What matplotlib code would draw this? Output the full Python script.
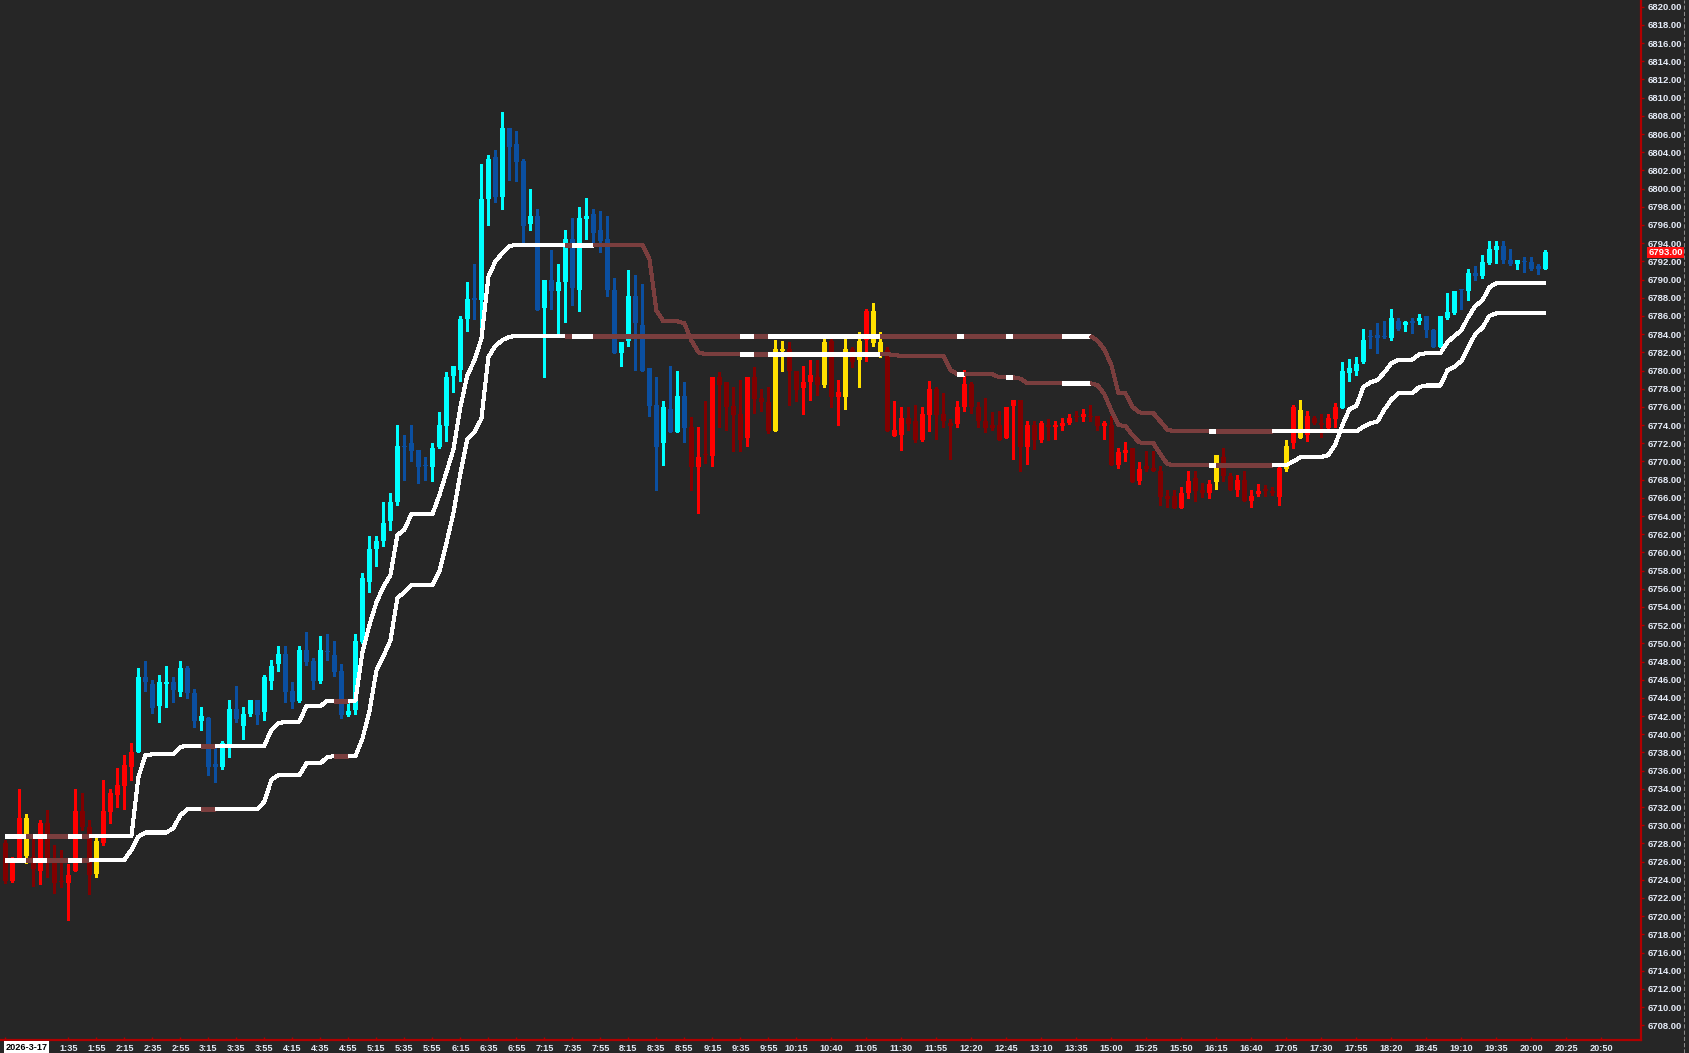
import matplotlib
matplotlib.use("Agg")
import matplotlib.pyplot as plt
from matplotlib.lines import Line2D
from matplotlib.ticker import FixedLocator
import numpy as np

plt.rcParams['font.family'] = ['Liberation Sans', 'DejaVu Sans']

# ---------------- data ----------------
opens = [
    6728.0, 6723.9, 6726.0, 6726.6, 6726.5, 6725.0, 6730.2, 6726.1, 6723.9, 6723.7,
    6725.0, 6731.6, 6729.8, 6724.6, 6728.0, 6731.5, 6733.3, 6734.3, 6736.4, 6738.0,
    6746.3, 6745.5, 6743.1, 6745.5, 6745.8, 6744.7, 6747.3, 6744.5, 6741.5, 6741.8,
    6736.7, 6736.4, 6738.8, 6742.8, 6740.9, 6742.2, 6743.8, 6742.5, 6745.9, 6747.7,
    6748.8, 6744.8, 6743.7, 6749.3, 6748.1, 6745.9, 6749.05, 6748.7, 6747.0, 6742.1,
    6742.7, 6750.1, 6756.8, 6760.4, 6761.2, 6763.4, 6765.5, 6771.65, 6772.0, 6771.3,
    6769.55, 6769.4, 6771.6, 6773.9, 6779.4, 6780.1, 6785.7, 6787.85, 6787.7, 6798.9,
    6803.5, 6799.1, 6806.7, 6804.9, 6803.0, 6796.1, 6797.0, 6786.9, 6790.0, 6788.7,
    6789.7, 6794.5, 6788.9, 6796.7, 6797.2, 6795.4, 6794.5, 6788.8, 6781.9, 6783.2,
    6788.2, 6785.0, 6780.3, 6776.2, 6772.0, 6775.8, 6773.2, 6777.2, 6773.8, 6769.4,
    6770.75, 6770.6, 6779.25, 6778.7, 6776.1, 6775.2, 6772.6, 6779.25, 6777.0, 6776.5,
    6773.3, 6782.2, 6782.4, 6780.0, 6778.1, 6778.7, 6779.25, 6778.4, 6783.3, 6777.05,
    6777.1, 6782.4, 6781.15, 6783.35, 6786.5, 6783.1, 6782.25, 6772.8, 6772.9, 6774.8,
    6774.45, 6772.4, 6775.1, 6778.0, 6775.2, 6774.2, 6774.1, 6775.95, 6778.5, 6775.95,
    6774.45, 6774.0, 6774.0, 6772.6, 6776.1, 6776.75, 6771.6, 6774.0, 6772.4, 6774.0,
    6773.75, 6773.9, 6774.2, 6775.0, 6774.9, 6775.0, 6775.0, 6773.9, 6774.0, 6769.6,
    6770.9, 6771.45, 6767.9, 6769.5, 6769.3, 6768.95, 6766.2, 6766.2, 6764.9, 6766.5,
    6768.2, 6766.9, 6766.5, 6767.7, 6770.45, 6768.4, 6766.9, 6767.95, 6765.7, 6766.4,
    6766.95, 6766.75, 6766.1, 6769.2, 6772.0, 6775.7, 6772.9, 6774.8, 6774.2, 6773.7,
    6774.65, 6775.9, 6779.7, 6779.9, 6780.9, 6783.7, 6783.95, 6783.7, 6783.6, 6785.45,
    6784.95, 6785.45, 6785.4, 6786.0, 6784.45, 6782.6, 6785.75, 6786.3, 6788.9, 6788.7,
    6790.7, 6790.4, 6791.85, 6793.2, 6793.7, 6792.2, 6791.7, 6791.95, 6791.9, 6791.5,
    6791.2,
]
highs = [
    6728.4, 6726.5, 6734.0, 6731.2, 6728.75, 6730.6, 6731.7, 6727.8, 6727.3, 6725.7,
    6734.0, 6733.5, 6730.6, 6728.6, 6735.0, 6734.0, 6736.3, 6737.7, 6739.0, 6747.3,
    6748.1, 6746.0, 6746.5, 6747.5, 6746.3, 6748.1, 6747.5, 6745.0, 6743.0, 6741.9,
    6738.5, 6739.3, 6743.8, 6745.3, 6743.0, 6743.8, 6743.8, 6746.5, 6748.2, 6749.7,
    6749.7, 6745.8, 6749.7, 6751.2, 6748.4, 6750.8, 6751.0, 6750.3, 6747.7, 6743.8,
    6751.0, 6757.7, 6761.8, 6761.8, 6765.5, 6766.5, 6774.0, 6772.9, 6774.0, 6771.3,
    6770.5, 6772.0, 6775.4, 6779.8, 6780.5, 6786.0, 6789.7, 6791.7, 6802.7, 6803.7,
    6804.2, 6808.4, 6806.7, 6806.3, 6803.3, 6800.0, 6797.8, 6790.0, 6793.2, 6791.7,
    6795.4, 6796.8, 6798.0, 6799.0, 6797.8, 6797.5, 6797.0, 6790.2, 6783.1, 6791.0,
    6790.5, 6789.5, 6780.3, 6779.3, 6776.6, 6780.5, 6779.9, 6778.7, 6774.85, 6773.8,
    6776.6, 6779.25, 6779.8, 6778.7, 6778.15, 6779.0, 6779.25, 6780.4, 6778.0, 6778.15,
    6783.4, 6783.2, 6783.1, 6780.0, 6780.5, 6781.2, 6781.2, 6784.0, 6783.7, 6779.0,
    6783.6, 6782.6, 6784.2, 6786.8, 6787.4, 6784.2, 6782.6, 6776.6, 6776.0, 6776.0,
    6776.2, 6776.0, 6778.8, 6778.15, 6777.5, 6774.7, 6776.6, 6780.05, 6778.7, 6776.5,
    6777.0, 6775.4, 6775.5, 6775.95, 6776.75, 6776.75, 6774.5, 6774.45, 6774.45, 6774.7,
    6774.45, 6774.8, 6775.2, 6775.6, 6775.8, 6776.2, 6775.0, 6774.5, 6775.0, 6771.5,
    6772.1, 6771.45, 6769.9, 6771.1, 6771.1, 6769.5, 6766.9, 6766.9, 6767.15, 6768.95,
    6768.9, 6767.6, 6768.0, 6770.7, 6771.45, 6768.7, 6768.5, 6768.95, 6766.9, 6767.5,
    6767.4, 6767.15, 6769.8, 6772.4, 6776.2, 6776.8, 6775.5, 6775.0, 6775.2, 6775.2,
    6776.4, 6780.9, 6781.3, 6781.45, 6784.6, 6784.45, 6785.2, 6785.45, 6786.75, 6785.75,
    6785.45, 6785.75, 6786.2, 6786.0, 6784.6, 6786.0, 6788.5, 6788.75, 6788.9, 6791.2,
    6791.5, 6792.7, 6794.2, 6794.2, 6794.2, 6793.4, 6792.2, 6792.5, 6792.45, 6791.7,
    6793.25,
]
lows = [
    6723.6, 6723.8, 6726.0, 6725.8, 6723.3, 6723.5, 6724.35, 6722.6, 6723.2, 6719.6,
    6725.0, 6729.5, 6722.4, 6724.35, 6727.8, 6730.3, 6732.0, 6731.8, 6735.0, 6738.0,
    6744.8, 6742.3, 6741.3, 6743.0, 6743.6, 6744.2, 6744.0, 6740.8, 6740.5, 6735.5,
    6734.8, 6736.2, 6737.5, 6741.3, 6739.5, 6742.0, 6741.1, 6741.6, 6745.0, 6747.0,
    6743.6, 6742.9, 6743.6, 6747.6, 6745.0, 6745.6, 6748.2, 6746.4, 6741.8, 6742.0,
    6742.2, 6750.0, 6755.6, 6758.5, 6760.7, 6762.5, 6765.2, 6768.0, 6770.0, 6767.6,
    6768.0, 6767.8, 6771.5, 6772.3, 6777.6, 6778.8, 6784.3, 6785.7, 6783.4, 6796.0,
    6798.5, 6797.8, 6801.0, 6800.8, 6793.7, 6795.5, 6786.7, 6779.3, 6786.8, 6784.1,
    6785.3, 6787.2, 6786.5, 6794.5, 6793.7, 6793.0, 6788.2, 6781.9, 6780.5, 6782.7,
    6780.1, 6779.9, 6775.0, 6766.9, 6769.6, 6773.2, 6773.2, 6772.1, 6766.9, 6764.3,
    6769.8, 6769.5, 6773.8, 6773.5, 6771.1, 6771.15, 6771.7, 6775.3, 6775.6, 6773.1,
    6773.3, 6780.0, 6776.2, 6776.6, 6775.25, 6776.8, 6777.3, 6778.2, 6776.0, 6774.0,
    6775.8, 6780.4, 6778.2, 6781.0, 6782.7, 6781.5, 6773.4, 6772.8, 6771.25, 6773.5,
    6772.1, 6772.3, 6773.3, 6772.5, 6773.8, 6770.3, 6773.75, 6775.5, 6775.3, 6773.8,
    6773.2, 6773.5, 6772.4, 6772.6, 6770.3, 6769.0, 6769.7, 6771.4, 6772.1, 6772.4,
    6772.5, 6773.5, 6774.1, 6774.45, 6774.5, 6774.5, 6773.5, 6772.5, 6769.6, 6769.3,
    6770.0, 6767.7, 6767.5, 6768.95, 6768.9, 6765.2, 6765.0, 6764.85, 6764.85, 6765.95,
    6765.6, 6766.1, 6765.95, 6767.0, 6767.8, 6766.85, 6766.25, 6765.7, 6765.0, 6766.2,
    6766.2, 6766.3, 6765.2, 6769.0, 6771.5, 6772.6, 6772.3, 6774.1, 6772.7, 6773.5,
    6773.8, 6775.85, 6778.8, 6779.5, 6780.8, 6782.5, 6781.9, 6783.6, 6783.4, 6784.45,
    6784.3, 6784.1, 6785.1, 6783.7, 6782.55, 6782.55, 6785.7, 6786.2, 6786.8, 6787.75,
    6790.0, 6790.2, 6791.7, 6791.8, 6791.8, 6791.6, 6791.2, 6790.8, 6791.0, 6790.6,
    6791.2,
]
closes = [
    6723.9, 6726.1, 6730.8, 6730.8, 6725.2, 6730.2, 6726.0, 6723.7, 6723.75, 6724.5,
    6731.6, 6729.8, 6724.5, 6728.3, 6731.6, 6733.6, 6734.4, 6736.6, 6738.1, 6746.3,
    6745.7, 6742.9, 6745.8, 6745.8, 6744.9, 6747.3, 6744.5, 6741.5, 6742.0, 6736.4,
    6736.4, 6739.0, 6742.8, 6741.7, 6742.2, 6743.8, 6742.1, 6746.3, 6747.5, 6748.8,
    6744.7, 6743.5, 6749.3, 6748.0, 6745.9, 6749.3, 6749.0, 6746.9, 6742.1, 6742.6,
    6750.3, 6757.2, 6760.4, 6761.2, 6763.2, 6765.5, 6771.7, 6771.6, 6771.1, 6769.4,
    6769.5, 6771.5, 6774.0, 6779.3, 6780.5, 6785.7, 6787.9, 6787.8, 6798.9, 6803.3,
    6799.1, 6806.7, 6804.6, 6802.9, 6795.9, 6797.0, 6786.7, 6790.0, 6788.7, 6789.7,
    6794.5, 6789.1, 6796.8, 6797.0, 6795.1, 6794.2, 6788.9, 6781.9, 6783.1, 6788.2,
    6785.2, 6779.9, 6776.1, 6771.6, 6776.0, 6773.2, 6777.2, 6773.7, 6769.4, 6770.45,
    6770.7, 6779.25, 6778.4, 6776.0, 6775.1, 6772.4, 6779.25, 6776.9, 6776.5, 6773.3,
    6782.4, 6782.4, 6779.9, 6777.9, 6778.7, 6779.5, 6778.4, 6783.1, 6777.05, 6777.6,
    6782.4, 6780.9, 6783.2, 6786.5, 6783.0, 6781.9, 6773.4, 6773.5, 6774.8, 6774.1,
    6772.4, 6775.2, 6778.0, 6775.1, 6774.4, 6773.9, 6775.95, 6778.5, 6775.95, 6774.4,
    6773.7, 6773.7, 6772.4, 6775.95, 6776.75, 6771.6, 6774.0, 6772.4, 6774.2, 6773.8,
    6774.0, 6774.2, 6774.8, 6774.85, 6775.2, 6774.85, 6773.9, 6774.2, 6769.6, 6771.0,
    6771.3, 6767.7, 6769.2, 6769.2, 6768.95, 6766.1, 6765.9, 6764.9, 6766.5, 6767.9,
    6766.7, 6766.5, 6767.5, 6770.7, 6768.4, 6766.9, 6767.95, 6765.7, 6766.2, 6766.75,
    6766.75, 6766.5, 6769.3, 6771.7, 6776.0, 6772.6, 6775.0, 6774.2, 6774.0, 6774.8,
    6775.95, 6779.95, 6780.3, 6780.7, 6783.4, 6783.65, 6783.6, 6783.65, 6785.75, 6784.6,
    6785.3, 6785.2, 6785.75, 6784.4, 6782.6, 6786.0, 6786.4, 6788.75, 6788.85, 6790.7,
    6790.4, 6791.9, 6793.4, 6793.7, 6792.2, 6791.7, 6792.2, 6791.9, 6791.2, 6791.2,
    6793.0,
]
# candle state: C=up-trend up bar, B=up-trend down bar, R=down-trend up bar,
# D=down-trend down bar, Y=signal bar
candle_states = list(
    "DRRYDRDDDR" "RDDYRRRRRC" "BBCCBCBBCB" "BCCBCCBCCC" "BBCBBCBBBC"
    "CCCCCCCBBB" "BCCCCCCBCC" "BCBBBCBCBC" "CBCCBBBBCC" "BBBBCBCBDR"
    "DRDDDDRDDD" "YYDDRRDYDR" "YDYRYYDRRD" "DRRDDDRRDD" "DDDRRDRDRD"
    "RRRDRDDRDR" "RDRDDDDDRR" "DDRYDDRDRR" "DDRYRYRDDR" "RCCCCBBBCB"
    "CBCBBCCCBC" "BCCCBBCBBB" "C"
)

line_a = ([6728.8] * 19 + [6735.3, 6737.7] + [6737.8] * 4 + [6738.6] + [6738.75] * 12
          + [6740.5, 6741.2] + [6741.4] * 3 + [6743.1] * 3 + [6743.7] * 5
          + [6749.0, 6752.0, 6754.5, 6756.2, 6757.5, 6761.9, 6762.5] + [6764.2] * 4
          + [6766.3, 6768.8, 6771.3, 6776.0, 6779.5, 6781.1, 6783.5, 6790.3, 6792.0, 6792.9, 6793.7]
          + [6793.8] * 19 + [6792.3, 6786.6] + [6785.4] * 3 + [6785.2, 6783.3, 6782.0]
          + [6781.8] * 27 + [6781.7] + [6781.6] * 7 + [6780.05] + [6779.6] * 6
          + [6779.25] * 3 + [6779.1] + [6778.6] * 10
          + [6778.4, 6777.4, 6775.6, 6774.0, 6773.9, 6772.9, 6772.1] + [6772.0] * 2
          + [6770.8, 6769.7] + [6769.6] * 17 + [6770.0, 6770.45] + [6770.5] * 3
          + [6770.7, 6771.9, 6774.0, 6775.75, 6776.1, 6778.2, 6778.7, 6778.95, 6779.8, 6780.8]
          + [6781.2] * 3 + [6781.8] + [6781.9] * 3
          + [6783.1, 6783.8, 6784.4, 6785.9, 6787.1, 6787.7, 6789.15] + [6789.6] * 8)

line_b = ([6726.2] * 18 + [6727.3, 6728.75] + [6729.2] * 4 + [6729.7, 6731.1] + [6731.75] * 11
          + [6732.6, 6735.0] + [6735.5] * 4 + [6736.8] * 3 + [6737.5] + [6737.6] * 4
          + [6739.5, 6742.5, 6747.0, 6748.6, 6750.3, 6755.0, 6755.6] + [6756.4] * 4
          + [6757.9, 6761.0, 6764.3, 6768.7, 6772.5, 6773.2, 6774.7, 6781.5, 6782.7, 6783.35, 6783.7]
          + [6783.8] * 83 + [6783.3, 6782.3, 6780.6] + [6777.5] * 2 + [6776.0, 6775.4]
          + [6775.3] * 2 + [6774.4, 6773.5] + [6773.3] * 27
          + [6773.8, 6774.2, 6774.4, 6775.7, 6776.8] + [6777.5] * 3 + [6778.2] + [6778.35] * 3
          + [6780.0, 6780.4, 6781.05, 6782.6, 6784.0, 6784.7, 6786.0] + [6786.3] * 8)

# colour state of the two stop lines, as (first segment, state) runs
line_state_runs = [(0, 'W'), (3, 'B'), (4, 'W'), (6, 'B'), (9, 'W'), (11, 'B'), (12, 'W'),
                   (28, 'B'), (30, 'W'), (47, 'B'), (49, 'W'), (80, 'B'), (81, 'W'),
                   (84, 'B'), (105, 'W'), (107, 'B'), (109, 'W'), (125, 'B'), (136, 'W'),
                   (137, 'B'), (143, 'W'), (144, 'B'), (151, 'W'), (155, 'B'), (172, 'W'),
                   (173, 'B'), (181, 'W')]

session_date = "2026-3-17"
time_tick_bars = [0, 9, 13, 17, 21, 25, 29, 33, 37, 41, 45, 49, 53, 57, 61, 65, 69, 73, 77,
                  81, 85, 89, 93, 97, 101, 105, 109, 113, 118, 123, 128, 133, 138, 143, 148,
                  153, 158, 163, 168, 173, 178, 183, 188, 193, 198, 203, 208, 213, 218, 223, 228]
time_tick_labels = [session_date, "1:35", "1:55", "2:15", "2:35", "2:55", "3:15", "3:35", "3:55",
                    "4:15", "4:35", "4:55", "5:15", "5:35", "5:55", "6:15", "6:35", "6:55", "7:15",
                    "7:35", "7:55", "8:15", "8:35", "8:55", "9:15", "9:35", "9:55", "10:15",
                    "10:40", "11:05", "11:30", "11:55", "12:20", "12:45", "13:10", "13:35",
                    "15:00", "15:25", "15:50", "16:15", "16:40", "17:05", "17:30", "17:55",
                    "18:20", "18:45", "19:10", "19:35", "20:00", "20:25", "20:50"]
price_ticks = list(range(6708, 6822, 2))
last_price = 6793.00

# ---------------- styling ----------------
BG = '#262626'
AXIS_RED = '#B00000'
LABEL_COL = '#E6ECF8'
candle_colors = {'C': '#00FFFF', 'B': '#0B4FA0', 'R': '#FF0000', 'D': '#800000', 'Y': '#FFE000'}
line_colors = {'W': '#FFFFFF', 'B': '#7A3E3E'}

W, H = 1689, 1053
fig = plt.figure(figsize=(W / 100, H / 100), dpi=100, facecolor=BG)
ax_bottom_px = 1039.6
ax = fig.add_axes([0, (H - ax_bottom_px) / H, 1641 / W, ax_bottom_px / H])
ax.set_facecolor(BG)

n = len(opens)
x = np.arange(n)
o = np.array(opens)
c = np.array(closes)
cols = [candle_colors[s] for s in candle_states]

ax.vlines(x, lows, highs, colors=cols, linewidth=0.75, antialiased=False, zorder=2)
bottoms = np.minimum(o, c)
heights = np.maximum(np.abs(c - o), 0.13)
ax.bar(x, heights, bottom=bottoms, width=0.71, color=cols, linewidth=0,
       antialiased=False, zorder=3)

# stop lines, drawn run by run with their colour state
runs = line_state_runs + [(n - 1, None)]
for vals in (line_b, line_a):
    for (start, st), (end, _) in zip(runs[:-1], runs[1:]):
        xs = x[start:end + 1]
        ys = vals[start:end + 1]
        ax.plot(xs, ys, color=line_colors[st], lw=2.2, solid_capstyle='butt',
                solid_joinstyle='round', antialiased=False, zorder=4)

ax.set_xlim(-0.771, 233.66)
ax.set_ylim(6706.43, 6820.74)

for side in ('top', 'left'):
    ax.spines[side].set_visible(False)
for side in ('right', 'bottom'):
    ax.spines[side].set_color(AXIS_RED)
    ax.spines[side].set_linewidth(1.6)

ax.yaxis.set_major_locator(FixedLocator(price_ticks))
ax.set_yticks(price_ticks)
ax.set_yticklabels([f"{p:.2f}" for p in price_ticks])
ax.tick_params(axis='y', left=False, right=True, labelleft=False, labelright=True,
               direction='out', length=2.5, width=1, color=AXIS_RED, pad=2,
               labelsize=6.8, labelcolor=LABEL_COL)

ax.set_xticks(time_tick_bars)
ax.set_xticklabels(['' if t == session_date else t for t in time_tick_labels])
ax.tick_params(axis='x', direction='in', length=2.2, width=1, color=AXIS_RED, pad=3,
               labelsize=6.6, labelcolor=LABEL_COL)
for lab in ax.get_xticklabels() + ax.get_yticklabels():
    lab.set_fontweight('bold')

# session date box
fig.text(5.5 / W, (H - 1042.5) / H, session_date, ha='left', va='top', fontsize=6.6,
         fontweight='bold', color='#000000',
         bbox=dict(boxstyle='square,pad=0.15', fc='#FFFFFF', ec='none'))

# current price marker on the price scale
y_last_px = (6820.74 - last_price) / (6820.74 - 6706.43) * ax_bottom_px
fig.text(1648.5 / W, (H - y_last_px) / H, f"{last_price:.2f}", ha='left', va='center',
         fontsize=6.8, fontweight='bold', color='#FFFFFF',
         bbox=dict(boxstyle='square,pad=0.12', fc='#FF1010', ec='none'))

# dashed separator at the right edge
fig.add_artist(Line2D([1683.5 / W, 1683.5 / W], [0, 1], transform=fig.transFigure,
                      color='#8A8A8A', lw=0.75, linestyle=(0, (4, 2))))

fig.savefig("out.png", dpi=100, facecolor=BG)
